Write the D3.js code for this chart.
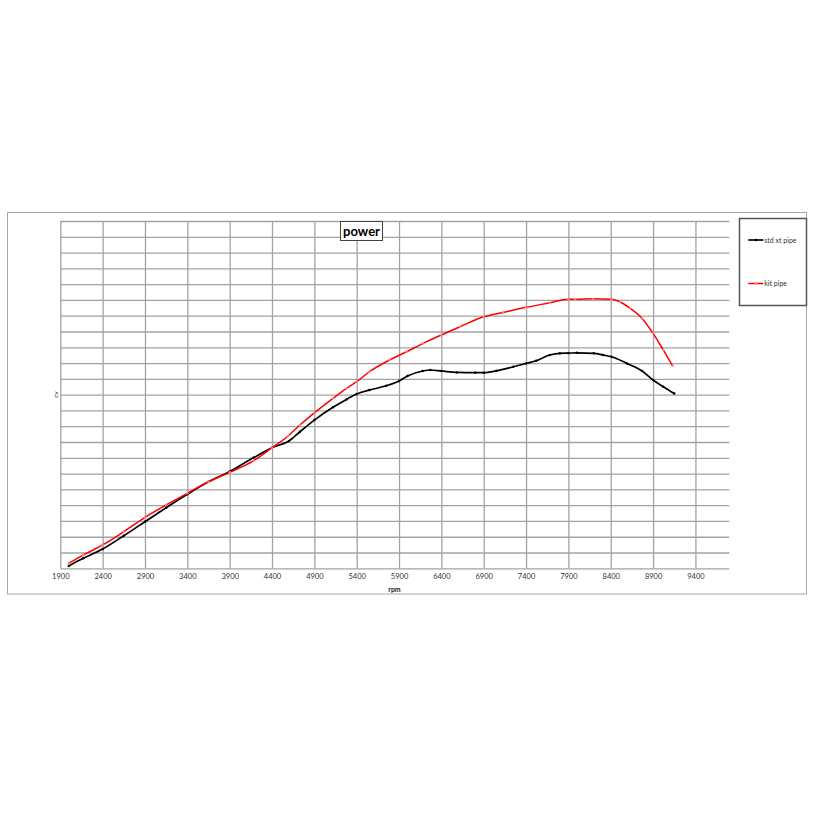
<!DOCTYPE html>
<html>
<head>
<meta charset="utf-8">
<script src="https://cdn.jsdelivr.net/npm/d3@7"></script>
<style>
  html, body { margin: 0; padding: 0; background: #fff; }
  svg { display: block; }
  text { font-family: Lato, "Open Sans", "DejaVu Sans", sans-serif; }
</style>
</head>
<body>
<svg id="chart" width="815" height="815"></svg>
<script>
// ---- data ----
const titleText = "power";
const xLabel = "rpm";
const yLabel = "cv";
const seriesNames = ["std xt pipe", "kit pipe"];
const seriesColors = ["#000000", "#ff0000"];
const xTicks = [1900, 2400, 2900, 3400, 3900, 4400, 4900, 5400, 5900, 6400, 6900, 7400, 7900, 8400, 8900, 9400];

const stdRpm = [2000, 2170, 2400, 2650, 2900, 3150, 3400, 3650, 3900, 4180, 4400, 4600, 4730, 4900, 5120, 5280, 5400, 5550, 5750, 5900, 6000, 6180, 6270, 6400, 6580, 6800, 6900, 7050, 7250, 7400, 7520, 7680, 7800, 7900, 8000, 8200, 8310, 8410, 8590, 8770, 8900, 9020, 9150];
const stdCv  = [0.15, 0.63, 1.22, 2.06, 2.95, 3.84, 4.69, 5.48, 6.13, 7.00, 7.64, 8.06, 8.65, 9.39, 10.20, 10.70, 11.04, 11.29, 11.56, 11.86, 12.18, 12.50, 12.56, 12.50, 12.41, 12.39, 12.39, 12.51, 12.77, 12.98, 13.15, 13.51, 13.62, 13.63, 13.65, 13.62, 13.51, 13.40, 12.98, 12.50, 11.93, 11.50, 11.07];

const kitRpm = [2000, 2170, 2400, 2650, 2900, 3150, 3400, 3650, 3900, 4180, 4400, 4590, 4730, 4900, 5120, 5280, 5400, 5550, 5790, 5990, 6185, 6400, 6620, 6900, 7130, 7400, 7680, 7900, 7980, 8190, 8410, 8510, 8630, 8770, 8900, 9020, 9130];
const kitCv  = [0.32, 0.84, 1.48, 2.32, 3.23, 4.01, 4.75, 5.48, 6.08, 6.81, 7.64, 8.38, 9.08, 9.85, 10.77, 11.40, 11.82, 12.45, 13.20, 13.72, 14.25, 14.78, 15.30, 15.93, 16.21, 16.53, 16.82, 17.05, 17.04, 17.07, 17.04, 16.87, 16.47, 15.83, 14.88, 13.83, 12.83];

const xDomain = [1900, 9800];
const yDomain = [0, 22];
const yStep = 1;

// ---- drawing ----
const svg = d3.select("#chart");
const plot = { left: 60.3, right: 729.3, top: 221, bottom: 568.3 };

// outer chart border
svg.append("rect")
  .attr("x", 7.5).attr("y", 212.5).attr("width", 799).attr("height", 381.5)
  .attr("fill", "#fff").attr("stroke", "#a6a6a6").attr("stroke-width", 1);

const x = d3.scaleLinear().domain(xDomain).range([plot.left, plot.right]);
const y = d3.scaleLinear().domain(yDomain).range([plot.bottom, plot.top]);

const gridColor = "#a3a3a3";
const yGridVals = d3.range(yDomain[0], yDomain[1] + yStep / 2, yStep);

// horizontal grid via axis
svg.append("g")
  .attr("transform", `translate(${plot.left},0)`)
  .call(d3.axisLeft(y).tickValues(yGridVals).tickSize(-(plot.right - plot.left)).tickFormat(""))
  .call(g => g.select(".domain").remove())
  .call(g => g.selectAll(".tick line").attr("stroke", gridColor).attr("stroke-width", 1.3));

// vertical grid + labels via axis
const xAxisG = svg.append("g")
  .attr("transform", `translate(0,${plot.bottom})`)
  .call(d3.axisBottom(x).tickValues(xTicks).tickSize(-(plot.bottom - plot.top)).tickPadding(5).tickFormat(d3.format("d")))
  .call(g => g.select(".domain").remove())
  .call(g => g.selectAll(".tick line").attr("stroke", gridColor).attr("stroke-width", 1.3));
xAxisG.selectAll(".tick text")
  .attr("fill", "#333").attr("font-size", "7.5px")
  .style("font-family", "Lato, 'Open Sans', sans-serif");

// axis titles
svg.append("text")
  .attr("x", 394.5).attr("y", 591.5)
  .attr("text-anchor", "middle").attr("font-size", "7px").attr("font-weight", "bold").attr("fill", "#222")
  .text(xLabel);
svg.append("text")
  .attr("transform", "translate(57.5,394.5) rotate(-90)")
  .attr("text-anchor", "middle").attr("font-size", "6.5px").attr("fill", "#222")
  .text(yLabel);

// series
const series = [
  { name: seriesNames[0], color: seriesColors[0], rpm: stdRpm, cv: stdCv, marker: "#000", width: 1.7 },
  { name: seriesNames[1], color: seriesColors[1], rpm: kitRpm, cv: kitCv, marker: "#ff8080", width: 1.5 }
];
const line = d3.line().x(d => x(d[0])).y(d => y(d[1])).curve(d3.curveMonotoneX);

series.forEach(s => {
  const pts = s.rpm.map((r, i) => [r, s.cv[i]]);
  svg.append("path").datum(pts)
    .attr("fill", "none").attr("stroke", s.color).attr("stroke-width", s.width)
    .attr("stroke-linejoin", "round").attr("d", line);
  svg.append("g").selectAll("circle").data(pts).join("circle")
    .attr("cx", d => x(d[0])).attr("cy", d => y(d[1])).attr("r", 1.2)
    .attr("fill", s.marker);
});

// title box
const tb = { x: 340.5, y: 221.5, w: 42, h: 19 };
svg.append("rect")
  .attr("x", tb.x).attr("y", tb.y).attr("width", tb.w).attr("height", tb.h)
  .attr("fill", "#fff").attr("stroke", "#444").attr("stroke-width", 1);
svg.append("text")
  .attr("x", tb.x + tb.w / 2).attr("y", tb.y + 14)
  .attr("text-anchor", "middle").attr("font-size", "13px").attr("font-weight", "bold").attr("fill", "#000")
  .text(titleText);

// legend
svg.append("rect")
  .attr("x", 739.5).attr("y", 218.5).attr("width", 67).attr("height", 87)
  .attr("fill", "#fff").attr("stroke", "#555").attr("stroke-width", 1.5);
const legendY = [240, 283.5];
series.forEach((s, i) => {
  const g = svg.append("g");
  g.append("line")
    .attr("x1", 748.3).attr("x2", 763.3).attr("y1", legendY[i]).attr("y2", legendY[i])
    .attr("stroke", s.color).attr("stroke-width", s.width);
  g.append("circle").attr("cx", 755.8).attr("cy", legendY[i]).attr("r", 1.3).attr("fill", s.marker);
  g.append("text")
    .attr("x", 764.3).attr("y", legendY[i] + 2.5)
    .attr("font-size", "7px").attr("fill", "#333")
    .text(s.name);
});
</script>
</body>
</html>
